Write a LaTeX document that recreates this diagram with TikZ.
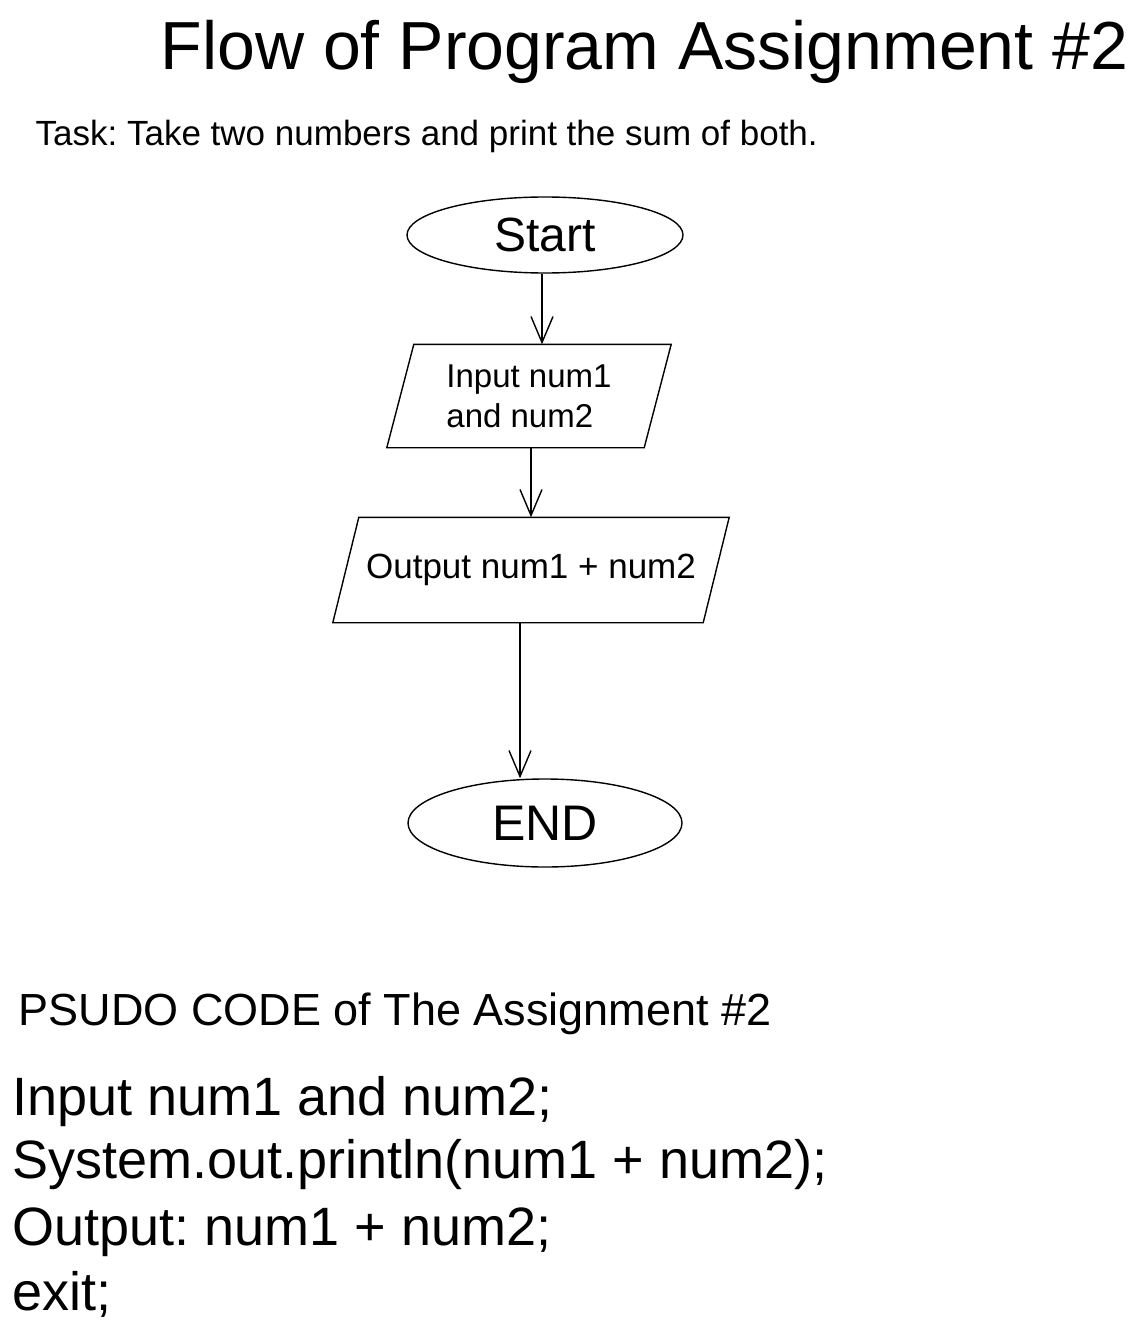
\documentclass[tikz,border=0pt]{standalone}
\usepackage{fontspec}
\setmainfont{Liberation Sans}
\frenchspacing
\usetikzlibrary{
    arrows.meta,
    shapes.geometric
}
\begin{document}
\begin{tikzpicture}[
        x=1pt, y=-1pt,
        line width=1.4pt,
        terminal/.style={ellipse, draw, inner sep=0pt},
        io/.style={rectangle, inner sep=0pt, font=\fontsize{33}{40}\selectfont},
        flow/.style={-{Straight Barb[length=26pt, width=22pt, line width=1.4pt]}},
        heading/.style={anchor=base west, inner sep=0pt}
    ]
    \useasboundingbox (0,0) rectangle (1144,1337);

    \node[heading, font=\fontsize{68}{80}\selectfont] (title) at (160,70) {Flow of Program Assignment \#2};
    \node[heading, font=\fontsize{35}{42}\selectfont] (task) at (35,146) {Task: Take two numbers and print the sum of both.};

    % flow chart
    \node[terminal, minimum width=276pt, minimum height=76pt, font=\fontsize{48}{56}\selectfont] (start) at (545,235) {Start};
    \node[io, minimum width=256pt, minimum height=102pt, align=left] (input) at (529,396) {Input num1\\and num2};
    \node[io, minimum width=369pt, minimum height=104pt, font=\fontsize{35}{42}\selectfont] (output) at (531,570) {Output num1 + num2};
    \node[terminal, minimum width=274pt, minimum height=88pt, font=\fontsize{50}{58}\selectfont] (end) at (545,823) {END};

    % slanted boxes for input/output
    \foreach \n/\s in {input/13.5,output/13} {
        \draw ([xshift=\s pt]\n.north west) -- ([xshift=\s pt]\n.north east)
            -- ([xshift=-\s pt]\n.south east) -- ([xshift=-\s pt]\n.south west) -- cycle;
    }

    \draw[flow] (start |- start.south) ++(-3,0) coordinate (s1) -- (s1 |- input.north);
    \draw[flow] (output |- input.south) -- (output.north);
    \draw[flow] ([xshift=-11pt]output.south) coordinate (o1) -- (o1 |- end.north);

    % pseudo code
    \node[heading, font=\fontsize{45}{52}\selectfont] (psudo) at (18,1025) {PSUDO CODE of The Assignment \#2};
    \foreach \y/\txt [count=\i] in {1115/{Input num1 and num2;},
                                    1178/{System.out.println(num1 + num2);},
                                    1245/{Output: num1 + num2;},
                                    1310/{exit;}} {
        \node[heading, font=\fontsize{54}{64}\selectfont] (code\i) at (12,\y) {\txt};
    }
\end{tikzpicture}
\end{document}
